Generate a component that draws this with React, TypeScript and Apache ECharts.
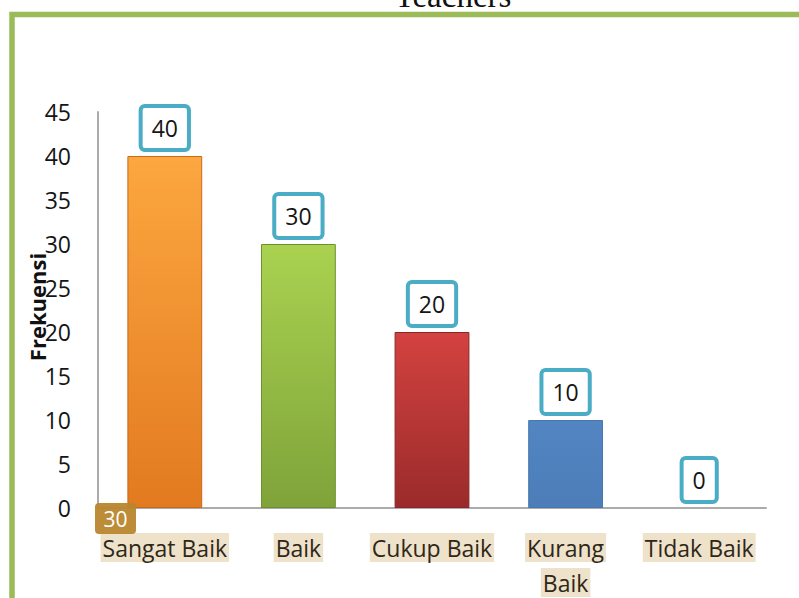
import React, { useEffect, useRef } from "react";
import * as echarts from "echarts";

const categories = ["Sangat Baik", "Baik", "Cukup Baik", "Kurang Baik", "Tidak Baik"];
const values = [40, 30, 20, 10, 0];
const wrappedCategories = ["Kurang Baik"];
const yTicks = { min: 0, max: 45, interval: 5 };
const titleText = "Teachers";
const yAxisTitle = "Frekuensi";
const badgeText = "30";

const barColors: [string, string, string][] = [
  ["#FCA73F", "#E27A20", "#C86A1C"],
  ["#AAD250", "#7FA33A", "#6E8F30"],
  ["#D34240", "#9A2B2A", "#8A2626"],
  ["#5285C2", "#4C7DB9", "#4877B0"],
  ["#9BBB59", "#9BBB59", "#9BBB59"],
];

export default function App() {
  const ref = useRef<HTMLDivElement>(null);
  useEffect(() => {
    if (!ref.current) return;
    const chart = echarts.init(ref.current, null, { renderer: "svg" });
    const font = "'Open Sans', 'Noto Sans', sans-serif";
    chart.setOption({
      animation: false,
      backgroundColor: "#ffffff",
      grid: { left: 98, top: 112, width: 668, height: 396, containLabel: false },
      xAxis: {
        type: "category",
        data: categories,
        axisLine: { show: true, lineStyle: { color: "#ABABAB", width: 2 } },
        axisTick: { show: false },
        axisLabel: {
          interval: 0,
          margin: 22,
          formatter: (v: string) =>
            wrappedCategories.includes(v)
              ? v.split(" ").map((w) => `{a|${w}}`).join("\n")
              : `{a|${v}}`,
          rich: {
            a: {
              fontFamily: font,
              fontSize: 23,
              color: "#2E2718",
              backgroundColor: "#EEE2CB",
              padding: [0, 2],
              height: 29,
              lineHeight: 35,
            },
          },
        },
      },
      yAxis: {
        type: "value",
        min: yTicks.min,
        max: yTicks.max,
        interval: yTicks.interval,
        axisLine: { show: true, lineStyle: { color: "#ABABAB", width: 2 } },
        axisTick: { show: false },
        splitLine: { show: false },
        axisLabel: {
          margin: 27,
          fontFamily: font,
          fontSize: 23,
          color: "#151515",
        },
      },
      series: [
        {
          type: "bar",
          data: values.map((v, i) => ({
            value: v,
            itemStyle: {
              color: new echarts.graphic.LinearGradient(0, 0, 0, 1, [
                { offset: 0, color: barColors[i][0] },
                { offset: 1, color: barColors[i][1] },
              ]),
              borderColor: barColors[i][2],
              borderWidth: v > 0 ? 1 : 0,
              opacity: v > 0 ? 1 : 0,
            },
          })),
          barCategoryGap: "44%",
          label: {
            show: true,
            position: "top",
            distance: 8,
            fontFamily: font,
            fontSize: 23,
            color: "#151515",
            backgroundColor: "#ffffff",
            borderColor: "#4BACC6",
            borderWidth: 4,
            borderRadius: 2,
            padding: [6, 9],
            lineHeight: 28,
            opacity: 1,
          },
        },
      ],
      graphic: [
        {
          type: "rect",
          shape: { x: 12, y: 14.5, width: 1000, height: 1000 },
          style: { fill: "none", stroke: "#9BBB59", lineWidth: 5.5 },
          z: 10,
        },
        {
          type: "text",
          x: 453,
          y: -4,
          style: {
            text: titleText,
            font: "33px 'Liberation Serif', 'Times New Roman', serif",
            fill: "#111111",
            align: "center",
            verticalAlign: "middle",
          },
        },
        {
          type: "text",
          x: 37,
          y: 307,
          rotation: Math.PI / 2,
          style: {
            text: yAxisTitle,
            font: `bold 22px ${font}`,
            fill: "#111111",
            align: "center",
            verticalAlign: "middle",
          },
          z: 20,
        },
        {
          type: "rect",
          shape: { x: 95, y: 503, width: 41, height: 31, r: 4 },
          style: { fill: "#B8862E", opacity: 0.95 },
          z: 30,
        },
        {
          type: "text",
          x: 115.5,
          y: 519,
          style: {
            text: badgeText,
            font: `21px ${font}`,
            fill: "#ffffff",
            align: "center",
            verticalAlign: "middle",
          },
          z: 31,
        },
      ],
    });
    return () => chart.dispose();
  }, []);
  return (
    <div
      ref={ref}
      style={{ position: "fixed", left: 0, top: 0, width: 799, height: 598 }}
    />
  );
}
